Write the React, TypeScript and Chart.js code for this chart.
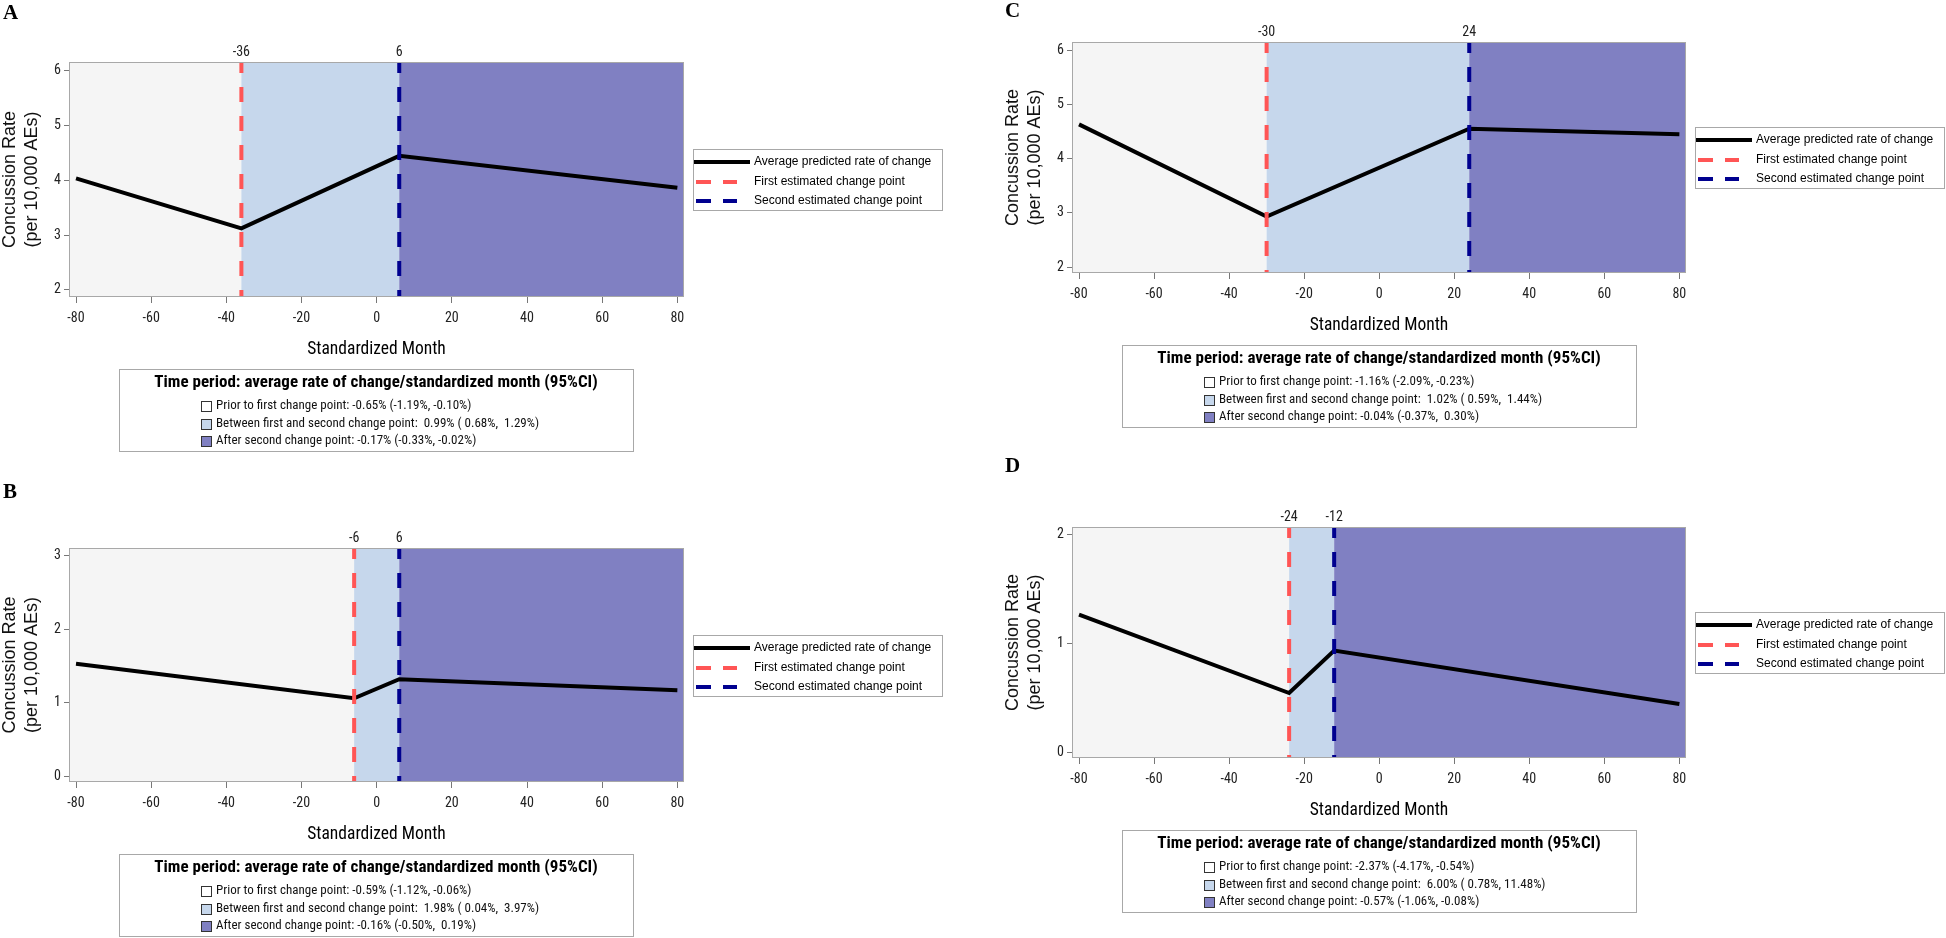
import React, { useEffect, useRef } from 'react';
import { Chart, registerables } from 'chart.js';
Chart.register(...registerables);

// ---------- shared data ----------
const xTicks = [-80, -60, -40, -20, 0, 20, 40, 60, 80];
const xRange = [-81.6, 81.5];
const xTitle = 'Standardized Month';
const yTitle = ['Concussion Rate', '(per 10,000 AEs)'];
const seriesLabels = ['Average predicted rate of change', 'First estimated change point', 'Second estimated change point'];
const statsTitle = 'Time period: average rate of change/standardized month (95%CI)';

// ---------- panel A ----------
const aMonths = [-80, -36, 6, 80];
const aRates = [4.03, 3.12, 4.44, 3.86];
const aChangePoints = [-36, 6];
const aYTicks = [2, 3, 4, 5, 6];
const aYRange = [1.89, 6.13];
const aStats = [
  'Prior to first change point: -0.65% (-1.19%, -0.10%)',
  'Between first and second change point:  0.99% ( 0.68%,  1.29%)',
  'After second change point: -0.17% (-0.33%, -0.02%)',
];

// ---------- panel B ----------
const bMonths = [-80, -6, 6, 80];
const bRates = [1.53, 1.06, 1.32, 1.17];
const bChangePoints = [-6, 6];
const bYTicks = [0, 1, 2, 3];
const bYRange = [-0.068, 3.095];
const bStats = [
  'Prior to first change point: -0.59% (-1.12%, -0.06%)',
  'Between first and second change point:  1.98% ( 0.04%,  3.97%)',
  'After second change point: -0.16% (-0.50%,  0.19%)',
];

// ---------- panel C ----------
const cMonths = [-80, -30, 24, 80];
const cRates = [4.63, 2.93, 4.55, 4.45];
const cChangePoints = [-30, 24];
const cYTicks = [2, 3, 4, 5, 6];
const cYRange = [1.91, 6.13];
const cStats = [
  'Prior to first change point: -1.16% (-2.09%, -0.23%)',
  'Between first and second change point:  1.02% ( 0.59%,  1.44%)',
  'After second change point: -0.04% (-0.37%,  0.30%)',
];

// ---------- panel D ----------
const dMonths = [-80, -24, -12, 80];
const dRates = [1.27, 0.55, 0.94, 0.45];
const dChangePoints = [-24, -12];
const dYTicks = [0, 1, 2];
const dYRange = [-0.037, 2.064];
const dStats = [
  'Prior to first change point: -2.37% (-4.17%, -0.54%)',
  'Between first and second change point:  6.00% ( 0.78%, 11.48%)',
  'After second change point: -0.57% (-1.06%, -0.08%)',
];

// ---------- styling / layout ----------
const W = 1946;
const H = 938;
const FONT_NARROW = '"Roboto Condensed", "Liberation Sans Narrow", "DejaVu Sans Condensed", sans-serif';
const FONT_SANS = '"Liberation Sans", Arial, sans-serif';
const FONT_SERIF = '"Liberation Serif", "Times New Roman", serif';
const REGION_COLORS = ['#F5F5F5', '#C6D7EC', '#8080C2'];
const RED = '#FF5555';
const NAVY = '#00008F';
const FRAME = '#A8A8A8';

type Panel = {
  letter: string;
  months: number[];
  rates: number[];
  changes: number[];
  yTicks: number[];
  yRange: number[];
  stats: string[];
  area: { l: number; r: number; t: number; b: number };
  letterPos: [number, number];
  yTitleX: number;
};

const panels: Panel[] = [
  { letter: 'A', months: aMonths, rates: aRates, changes: aChangePoints, yTicks: aYTicks, yRange: aYRange, stats: aStats,
    area: { l: 70, r: 683, t: 63, b: 296 }, letterPos: [3, 14], yTitleX: 10 },
  { letter: 'B', months: bMonths, rates: bRates, changes: bChangePoints, yTicks: bYTicks, yRange: bYRange, stats: bStats,
    area: { l: 70, r: 683, t: 549, b: 781 }, letterPos: [3, 493], yTitleX: 10 },
  { letter: 'C', months: cMonths, rates: cRates, changes: cChangePoints, yTicks: cYTicks, yRange: cYRange, stats: cStats,
    area: { l: 1073, r: 1685, t: 43, b: 272 }, letterPos: [1005, 12], yTitleX: 1013 },
  { letter: 'D', months: dMonths, rates: dRates, changes: dChangePoints, yTicks: dYTicks, yRange: dYRange, stats: dStats,
    area: { l: 1073, r: 1685, t: 528, b: 757 }, letterPos: [1005, 467], yTitleX: 1013 },
];

const TOP_AXIS_H = 30;
const BOTTOM_AXIS_H = 70;

function makePlugin(p: Panel) {
  return {
    id: 'panelDecor' + p.letter,
    beforeDatasetsDraw(chart: any) {
      const { ctx, chartArea: ca, scales } = chart;
      const xs = scales.x;
      const c1 = xs.getPixelForValue(p.changes[0]);
      const c2 = xs.getPixelForValue(p.changes[1]);
      ctx.save();
      ctx.fillStyle = REGION_COLORS[0];
      ctx.fillRect(ca.left, ca.top, c1 - ca.left, ca.bottom - ca.top);
      ctx.fillStyle = REGION_COLORS[1];
      ctx.fillRect(c1, ca.top, c2 - c1, ca.bottom - ca.top);
      ctx.fillStyle = REGION_COLORS[2];
      ctx.fillRect(c2, ca.top, ca.right - c2, ca.bottom - ca.top);
      ctx.restore();
    },
    afterDatasetsDraw(chart: any) {
      const { ctx, chartArea: ca, scales } = chart;
      const xs = scales.x;
      ctx.save();
      ctx.lineWidth = 4;
      ctx.setLineDash([15, 14]);
      ctx.lineDashOffset = 5;
      [RED, NAVY].forEach((col, i) => {
        const px = xs.getPixelForValue(p.changes[i]);
        ctx.strokeStyle = col;
        ctx.beginPath();
        ctx.moveTo(px, ca.top);
        ctx.lineTo(px, ca.bottom);
        ctx.stroke();
      });
      ctx.setLineDash([]);
      ctx.lineWidth = 1;
      ctx.strokeStyle = FRAME;
      ctx.strokeRect(Math.round(ca.left) - 0.5, Math.round(ca.top) - 0.5, Math.round(ca.right - ca.left) + 1, Math.round(ca.bottom - ca.top) + 1);
      ctx.restore();
    },
    afterDraw(chart: any) {
      const { ctx, chartArea: ca } = chart;
      ctx.save();
      // panel letter
      ctx.fillStyle = '#000';
      ctx.font = 'bold 21px ' + FONT_SERIF;
      ctx.textAlign = 'left';
      ctx.textBaseline = 'middle';
      ctx.fillText(p.letter, p.letterPos[0], p.letterPos[1]);

      // right legend
      const bw = 249, bh = 61;
      const bx = Math.round(ca.right) + 10;
      const by = Math.round((ca.top + ca.bottom) / 2 - bh / 2);
      ctx.fillStyle = '#fff';
      ctx.fillRect(bx, by, bw, bh);
      ctx.strokeStyle = FRAME;
      ctx.lineWidth = 1;
      ctx.strokeRect(bx + 0.5, by + 0.5, bw, bh);
      const rows = [by + 13, by + 33, by + 52];
      ctx.lineWidth = 4;
      ctx.strokeStyle = '#000';
      ctx.beginPath();
      ctx.moveTo(bx + 1, rows[0]);
      ctx.lineTo(bx + 57, rows[0]);
      ctx.stroke();
      [RED, NAVY].forEach((col, i) => {
        ctx.strokeStyle = col;
        ctx.beginPath();
        ctx.moveTo(bx + 3, rows[i + 1]);
        ctx.lineTo(bx + 18, rows[i + 1]);
        ctx.moveTo(bx + 30, rows[i + 1]);
        ctx.lineTo(bx + 44, rows[i + 1]);
        ctx.stroke();
      });
      ctx.fillStyle = '#000';
      ctx.font = '12px ' + FONT_SANS;
      ctx.textBaseline = 'middle';
      seriesLabels.forEach((t, i) => ctx.fillText(t, bx + 61, rows[i]));

      // bottom statistics legend
      const sl = Math.round(ca.left) + 49;
      const sw = 514, sh = 82;
      const st = Math.round(ca.bottom) + 73;
      ctx.lineWidth = 1;
      ctx.strokeStyle = FRAME;
      ctx.strokeRect(sl + 0.5, st + 0.5, sw, sh);
      ctx.fillStyle = '#000';
      ctx.font = 'bold 17px ' + FONT_NARROW;
      ctx.textAlign = 'center';
      ctx.fillText(statsTitle, sl + sw / 2, st + 14);
      ctx.textAlign = 'left';
      ctx.font = '13px ' + FONT_NARROW;
      const srows = [st + 37, st + 55, st + 72];
      p.stats.forEach((t, i) => {
        ctx.fillStyle = i === 0 ? '#FFFFFF' : REGION_COLORS[i];
        ctx.fillRect(sl + 82, srows[i] - 5, 10, 10);
        ctx.strokeStyle = '#333';
        ctx.strokeRect(sl + 82.5, srows[i] - 4.5, 10, 10);
        ctx.fillStyle = '#111';
        ctx.fillText(t, sl + 97, srows[i]);
      });
      ctx.restore();
    },
  };
}

function PanelChart({ p }: { p: Panel }) {
  const ref = useRef<HTMLCanvasElement>(null);
  useEffect(() => {
    const canvas = ref.current!;
    const padLeft = Math.max(0, p.yTitleX - 11);
    const titlePadTop = p.yTitleX - 11 - padLeft;
    const yAxisW = p.area.l - padLeft;
    const tickFont = { family: FONT_NARROW, size: 14 };
    const chart = new Chart(canvas, {
      type: 'line',
      data: {
        datasets: [
          {
            label: seriesLabels[0],
            data: p.months.map((m, i) => ({ x: m, y: p.rates[i] })),
            borderColor: '#000',
            borderWidth: 4,
            pointRadius: 0,
            tension: 0,
            fill: false,
            xAxisID: 'x',
            yAxisID: 'y',
          },
        ],
      },
      options: {
        responsive: false,
        animation: false,
        devicePixelRatio: 1,
        layout: {
          padding: {
            left: padLeft,
            right: W - p.area.r,
            top: p.area.t - TOP_AXIS_H,
            bottom: H - p.area.b - BOTTOM_AXIS_H,
          },
        },
        plugins: { legend: { display: false }, tooltip: { enabled: false }, title: { display: false } },
        scales: {
          x: {
            type: 'linear',
            position: 'bottom',
            min: xRange[0],
            max: xRange[1],
            afterBuildTicks: (s: any) => { s.ticks = xTicks.map((v) => ({ value: v })); },
            afterFit: (s: any) => { s.height = BOTTOM_AXIS_H; },
            ticks: { autoSkip: false, maxRotation: 0, padding: 7, color: '#222', font: tickFont, callback: (v: any) => String(v) },
            grid: { display: true, drawOnChartArea: false, drawTicks: true, tickLength: 7, color: '#777' },
            border: { display: false },
            title: { display: true, text: xTitle, color: '#000', font: { family: FONT_NARROW, size: 17.5, lineHeight: '22px' }, padding: { top: 0, bottom: 5 } },
          },
          xTop: {
            type: 'linear',
            position: 'top',
            min: xRange[0],
            max: xRange[1],
            afterBuildTicks: (s: any) => { s.ticks = p.changes.map((v) => ({ value: v })); },
            afterFit: (s: any) => { s.height = TOP_AXIS_H; },
            ticks: { autoSkip: false, maxRotation: 0, padding: 2, color: '#222', font: tickFont, callback: (v: any) => String(v) },
            grid: { display: false, drawTicks: false, tickLength: 0 },
            border: { display: false },
          },
          y: {
            type: 'linear',
            position: 'left',
            min: p.yRange[0],
            max: p.yRange[1],
            afterBuildTicks: (s: any) => { s.ticks = p.yTicks.map((v) => ({ value: v })); },
            afterFit: (s: any) => { s.width = yAxisW; },
            ticks: { padding: 3, color: '#222', font: tickFont, callback: (v: any) => String(v) },
            grid: { display: true, drawOnChartArea: false, drawTicks: true, tickLength: 6, color: '#777' },
            border: { display: false },
            title: { display: true, text: yTitle, color: '#111', font: { family: FONT_SANS, size: 18, lineHeight: '22px' }, padding: { top: titlePadTop, bottom: 0 } },
          },
        },
      } as any,
      plugins: [makePlugin(p)],
    });
    return () => chart.destroy();
  }, [p]);
  return (
    <canvas
      ref={ref}
      width={W}
      height={H}
      style={{ position: 'absolute', left: 0, top: 0, width: W, height: H }}
    />
  );
}

export default function App() {
  return (
    <div style={{ position: 'absolute', left: 0, top: 0, width: W, height: H, background: '#fff', overflow: 'hidden' }}>
      {panels.map((p) => (
        <PanelChart key={p.letter} p={p} />
      ))}
    </div>
  );
}
